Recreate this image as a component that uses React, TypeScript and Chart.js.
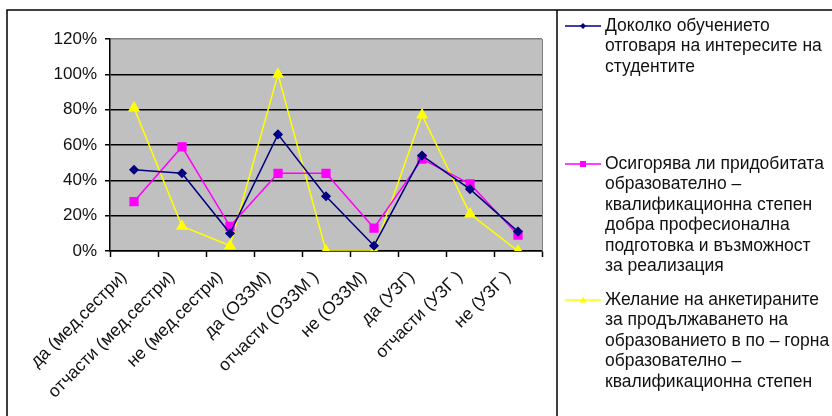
import { useEffect, useRef } from "react";
import { Chart, registerables } from "chart.js";

Chart.register(...registerables);

// Survey answers per group (share of respondents, %)
const categories = [
  "да (мед.сестри)",
  "отчасти (мед.сестри)",
  "не (мед.сестри)",
  "да (ОЗЗМ)",
  "отчасти (ОЗЗМ )",
  "не (ОЗЗМ)",
  "да (УЗГ)",
  "отчасти (УЗГ )",
  "не (УЗГ )",
];

const interestValues = [46, 44, 10, 66, 31, 3, 54, 35, 11];
const preparationValues = [28, 59, 14, 44, 44, 13, 52, 38, 9];
const continueValues = [81, 14, 3, 100, 0, 0, 77, 21, 0];

const yTicks = [0, 20, 40, 60, 80, 100, 120];

const interestLabel = ["Доколко обучението", "отговаря на интересите на", "студентите"];
const preparationLabel = [
  "Осигорява ли придобитата",
  "образователно –",
  "квалификационна степен",
  "добра професионална",
  "подготовка и възможност",
  "за реализация",
];
const continueLabel = [
  "Желание на анкетираните",
  "за продължаването на",
  "образованието в по – горна",
  "образователно –",
  "квалификационна степен",
];

const FONT = '"Liberation Sans", Arial, sans-serif';

// Background of the page and grey plot area
const plotBackground = {
  id: "plotBackground",
  beforeDraw(chart: any) {
    const { ctx, chartArea, width, height } = chart;
    ctx.save();
    ctx.fillStyle = "#ffffff";
    ctx.fillRect(0, 0, width, height);
    ctx.fillStyle = "#c0c0c0";
    ctx.fillRect(chartArea.left, chartArea.top, chartArea.right - chartArea.left, chartArea.bottom - chartArea.top);
    ctx.restore();
  },
  beforeDatasetsDraw(chart: any) {
    const { ctx, chartArea } = chart;
    ctx.save();
    ctx.strokeStyle = "#808080";
    ctx.lineWidth = 1;
    ctx.beginPath();
    ctx.moveTo(chartArea.right + 0.5, chartArea.top);
    ctx.lineTo(chartArea.right + 0.5, chartArea.bottom);
    ctx.stroke();
    ctx.restore();
  },
};

// Outer frame and the legend panel on the right
const sideLegend = {
  id: "sideLegend",
  afterDraw(chart: any) {
    const { ctx, width, height } = chart;
    ctx.save();
    ctx.strokeStyle = "#000000";
    ctx.lineWidth = 1.5;
    ctx.beginPath();
    ctx.moveTo(7, height);
    ctx.lineTo(7, 10);
    ctx.lineTo(width, 10);
    ctx.moveTo(557, 10);
    ctx.lineTo(557, height);
    ctx.stroke();

    const tops = [26, 164, 300];
    const lineHeight = 20.5;
    ctx.font = `17.5px ${FONT}`;
    ctx.textBaseline = "middle";
    ctx.textAlign = "left";
    chart.data.datasets.forEach((ds: any, i: number) => {
      const top = tops[i];
      const lines = ds.legendLines as string[];
      ctx.strokeStyle = ds.borderColor;
      ctx.lineWidth = 1.5;
      ctx.beginPath();
      ctx.moveTo(565, top);
      ctx.lineTo(601, top);
      ctx.stroke();
      ctx.fillStyle = ds.pointBackgroundColor;
      const cx = 583;
      if (ds.pointStyle === "rectRot") {
        ctx.beginPath();
        ctx.moveTo(cx, top - 3);
        ctx.lineTo(cx + 3, top);
        ctx.lineTo(cx, top + 3);
        ctx.lineTo(cx - 3, top);
        ctx.closePath();
        ctx.fill();
      } else if (ds.pointStyle === "rect") {
        ctx.fillRect(cx - 3, top - 3, 6, 6);
      } else {
        ctx.beginPath();
        ctx.moveTo(cx, top - 3.5);
        ctx.lineTo(cx + 3.5, top + 2.5);
        ctx.lineTo(cx - 3.5, top + 2.5);
        ctx.closePath();
        ctx.fill();
      }
      ctx.fillStyle = "#111111";
      lines.forEach((t: string, k: number) => {
        ctx.fillText(t, 605, top + k * lineHeight);
      });
    });
    ctx.restore();
  },
};

export default function App() {
  const canvasRef = useRef<HTMLCanvasElement | null>(null);

  useEffect(() => {
    const canvas = canvasRef.current;
    if (!canvas) return;
    const chart = new Chart(canvas, {
      type: "line",
      data: {
        labels: categories,
        datasets: [
          {
            label: interestLabel.join(" "),
            legendLines: interestLabel,
            data: interestValues,
            borderColor: "#000080",
            backgroundColor: "#000080",
            pointBackgroundColor: "#000080",
            pointBorderColor: "#000080",
            pointStyle: "rectRot",
            pointRadius: 4,
            borderWidth: 1.5,
          } as any,
          {
            label: preparationLabel.join(" "),
            legendLines: preparationLabel,
            data: preparationValues,
            borderColor: "#ff00ff",
            backgroundColor: "#ff00ff",
            pointBackgroundColor: "#ff00ff",
            pointBorderColor: "#ff00ff",
            pointStyle: "rect",
            pointRadius: 5.5,
            borderWidth: 1.5,
          } as any,
          {
            label: continueLabel.join(" "),
            legendLines: continueLabel,
            data: continueValues,
            borderColor: "#ffff00",
            backgroundColor: "#ffff00",
            pointBackgroundColor: "#ffff00",
            pointBorderColor: "#ffff00",
            pointStyle: "triangle",
            pointRadius: 5.5,
            borderWidth: 1.5,
          } as any,
        ],
      },
      options: {
        responsive: false,
        animation: false,
        layout: { padding: { left: 6, top: 39, right: 290, bottom: 0 } },
        plugins: {
          legend: { display: false },
          tooltip: { enabled: false },
        },
        elements: { line: { tension: 0 } },
        scales: {
          x: {
            offset: true,
            grid: {
              offset: true,
              drawOnChartArea: false,
              tickLength: 6,
              tickColor: "#000000",
              tickWidth: 1.5,
            },
            border: { color: "#000000", width: 1.5 },
            ticks: {
              autoSkip: false,
              minRotation: 45,
              maxRotation: 45,
              padding: 10,
              labelOffset: -10,
              color: "#111111",
              font: { family: FONT, size: 17.5 },
            },
            afterFit(scale: any) {
              scale.height = 165;
            },
          },
          y: {
            min: 0,
            max: 120,
            afterBuildTicks(scale: any) {
              scale.ticks = yTicks.map((v) => ({ value: v }));
            },
            grid: {
              color: (c: any) => (c.tick && c.tick.value === 120 ? "#808080" : "#000000"),
              lineWidth: 1.5,
              tickLength: 5,
              tickColor: "#000000",
            },
            border: { color: "#000000", width: 1.5 },
            ticks: {
              padding: 8,
              color: "#111111",
              font: { family: FONT, size: 17 },
              callback: (v: any) => `${v}%`,
            },
            afterFit(scale: any) {
              scale.width = 104;
            },
          },
        },
      },
      plugins: [plotBackground, sideLegend],
    });
    return () => chart.destroy();
  }, []);

  return (
    <div style={{ position: "fixed", left: 0, top: 0, width: 832, height: 416, background: "#fff" }}>
      <canvas ref={canvasRef} width={832} height={416} style={{ display: "block" }} />
    </div>
  );
}
